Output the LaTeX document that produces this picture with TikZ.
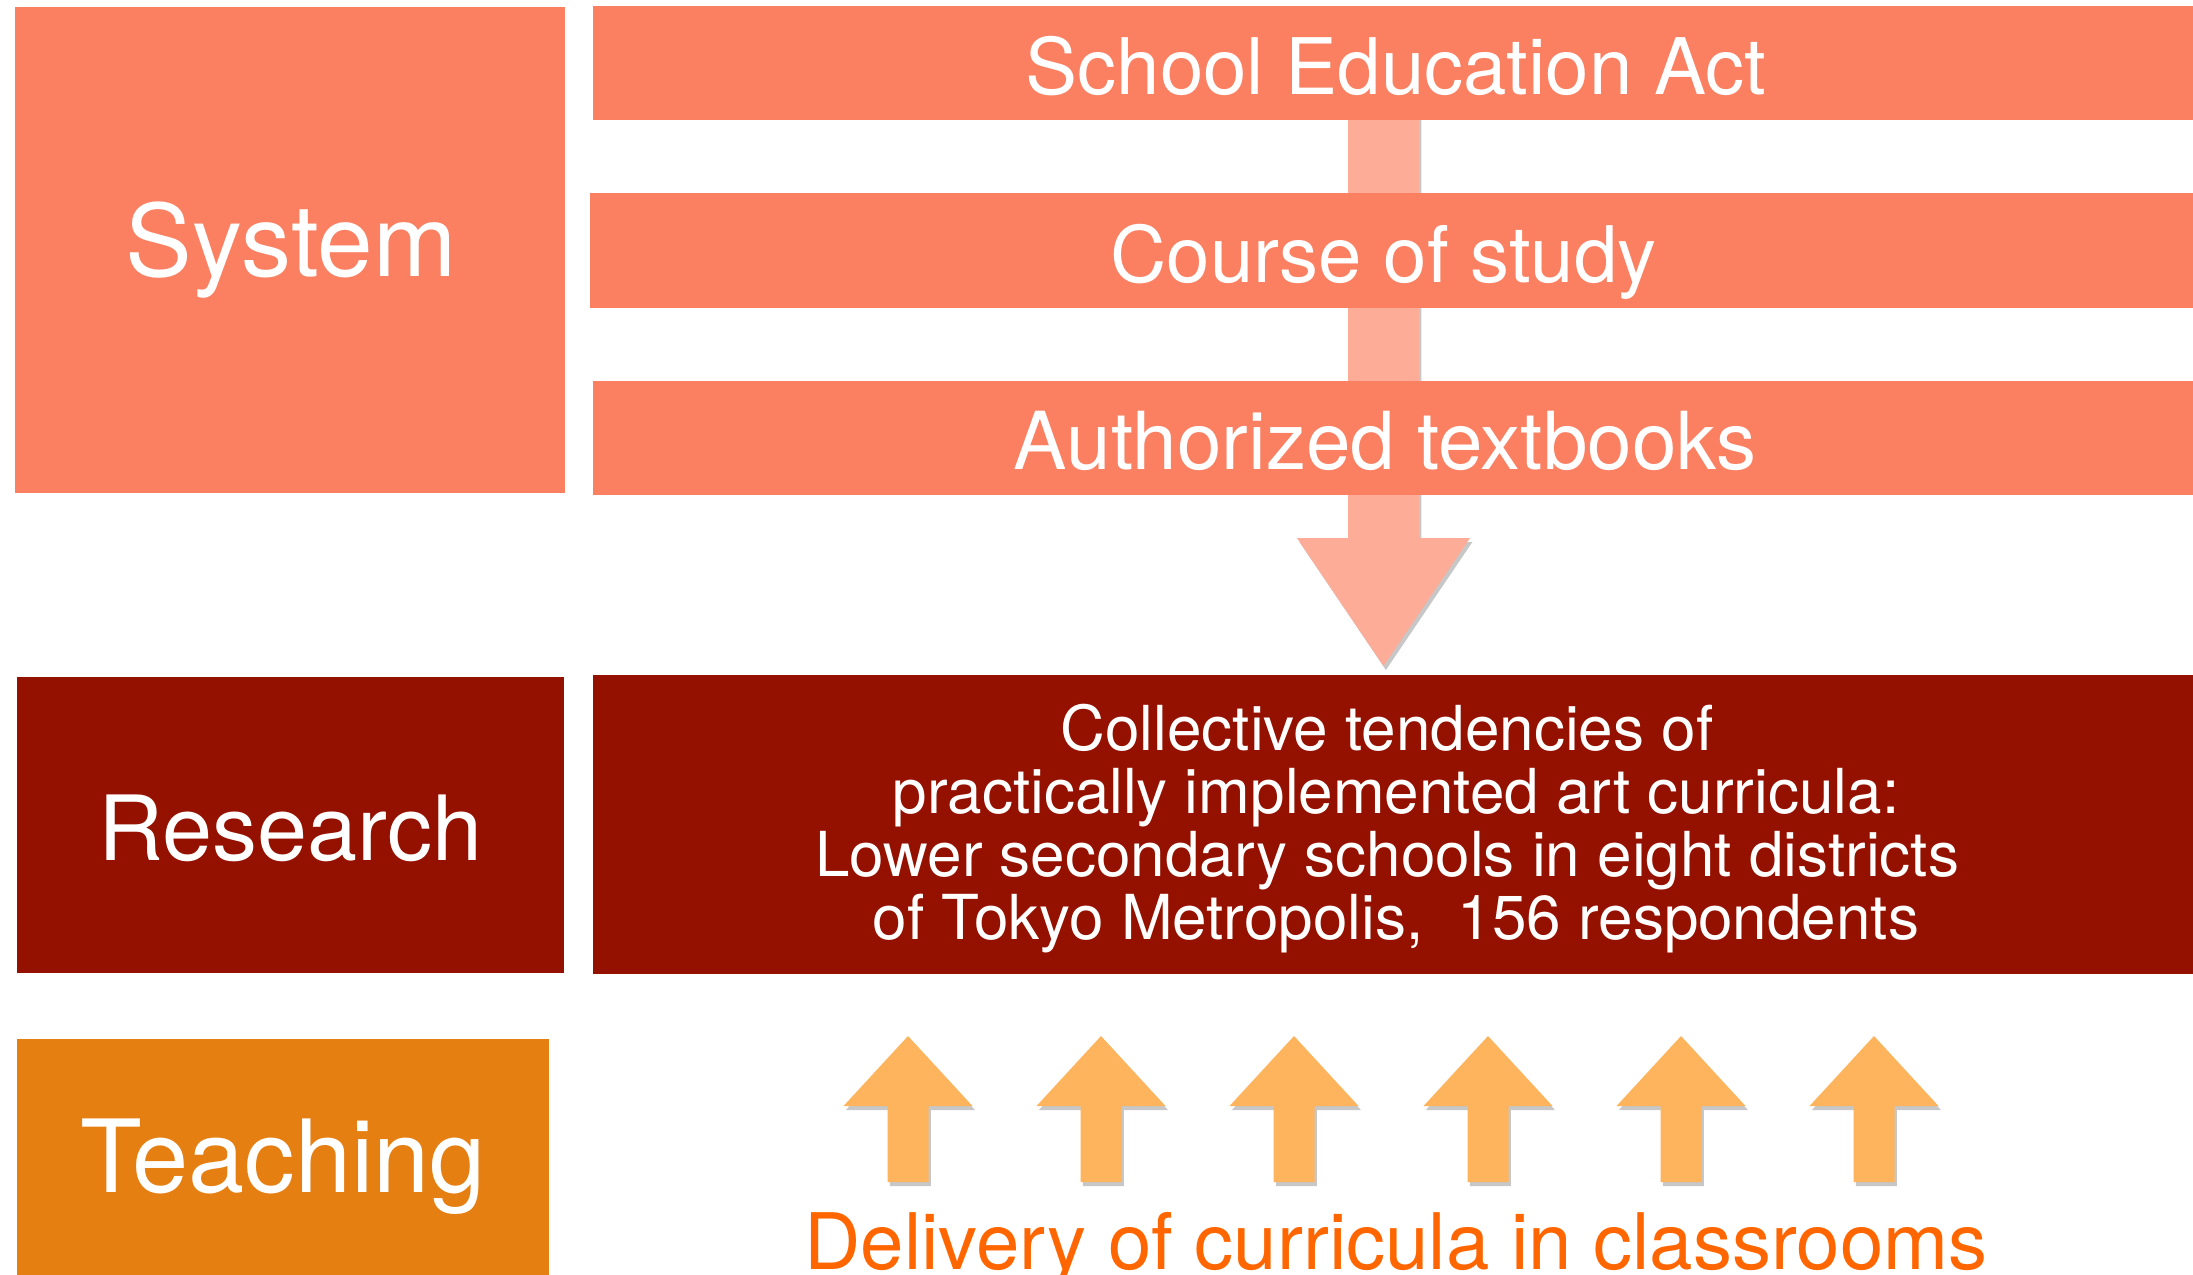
\documentclass[tikz,border=0pt]{standalone}
\usepackage{fontspec}
\setmainfont{TeX Gyre Heros}
\usetikzlibrary{shadows}
\definecolor{salmon}{HTML}{FB8062}
\definecolor{lightsalmon}{HTML}{FDAC98}
\definecolor{cayenne}{HTML}{941100}
\definecolor{tangerine}{HTML}{E67F12}
\definecolor{upfill}{HTML}{FDB45C}
\definecolor{deliv}{HTML}{FF6600}
\begin{document}
\begin{tikzpicture}[x=0.5pt,y=-0.5pt,
  box/.style={inner sep=0pt, outer sep=0pt, draw=none},
  lbl/.style={text=white, inner sep=0pt, anchor=base},
  shad/.style={drop shadow={shadow xshift=1.2pt, shadow yshift=-2pt, opacity=0.22, fill=black}},
]
\clip (0,0) rectangle (2193,1274);
\fill[white] (0,0) rectangle (2193,1274);

% big downward arrow (behind the bars)
\fill[lightsalmon, shad] (1348,110) -- (1419,110) -- (1419,538) -- (1470,538) -- (1383.5,666) -- (1297,538) -- (1348,538) -- cycle;

% left category boxes
\node[box, fill=salmon, minimum width=275pt, minimum height=243pt] (sys) at (290,250) {};
\node[lbl, font=\fontsize{50}{60}\selectfont] (systxt) at (291,276) {System};

\node[box, fill=cayenne, minimum width=273.5pt, minimum height=148pt] (res) at (290.5,825) {};
\node[lbl, font=\fontsize{45}{54}\selectfont] (restxt) at (290.5,860) {Research};

\node[box, fill=tangerine, minimum width=266pt, minimum height=130.5pt] (teach) at (283,1169.5) {};
\node[lbl, font=\fontsize{50.5}{60}\selectfont] (teachtxt) at (283,1192) {Teaching};

% system bars
\node[box, fill=salmon, minimum width=800pt, minimum height=57pt] (act) at (1393,63) {};
\node[lbl, font=\fontsize{39}{46}\selectfont] (acttxt) at (1396,94) {School Education Act};

\node[box, fill=salmon, minimum width=801.5pt, minimum height=57.5pt] (course) at (1391.5,250.5) {};
\node[lbl, font=\fontsize{39}{46}\selectfont] (coursetxt) at (1383.5,282) {Course of study};

\node[box, fill=salmon, minimum width=800pt, minimum height=57pt] (auth) at (1393,438) {};
\node[lbl, font=\fontsize{40}{48}\selectfont] (authtxt) at (1385,469) {Authorized textbooks};

% research content
\node[box, fill=cayenne, minimum width=800pt, minimum height=149.5pt] (resbox) at (1393,824.5) {};
\node[text=white, align=center, inner sep=0pt, font=\fontsize{31}{31.5}\selectfont] (resboxtxt) at (1387,829)
  {Collective tendencies of\\\hspace*{9pt}practically implemented art curricula:\\Lower secondary schools in eight districts\\\hspace*{9pt}of Tokyo Metropolis,\ \ 156 respondents};

% upward arrows
\foreach \cx [count=\i] in {908,1101,1294,1488,1681,1874}{
  \fill[upfill, shad] ({\cx-20.5},1182) -- ({\cx+20.5},1182) -- ({\cx+20.5},1106) -- ({\cx+64.5},1106) -- (\cx,1036) -- ({\cx-64.5},1106) -- ({\cx-20.5},1106) -- cycle;
}

\node[anchor=base, inner sep=0pt, text=deliv, font=\fontsize{39}{46}\selectfont] (delivtxt) at (1396,1269) {Delivery of curricula in classrooms};
\end{tikzpicture}
\end{document}
